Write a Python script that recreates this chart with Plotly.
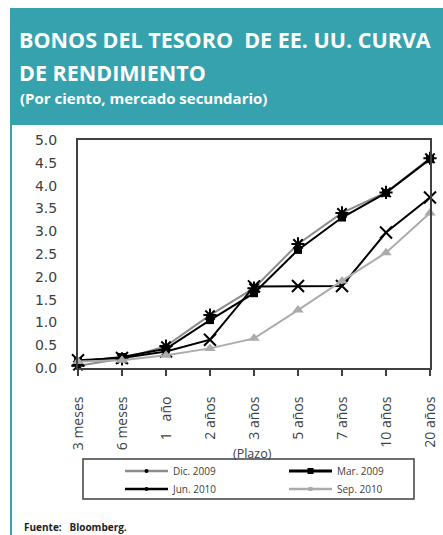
import plotly.graph_objects as go

categories = ["3 meses", "6 meses", "1   año", "2 años", "3 años", "5 años", "7 años", "10 años", "20 años"]
dic_2009 = [0.05, 0.20, 0.48, 1.16, 1.75, 2.72, 3.40, 3.85, 4.60]
mar_2009 = [0.14, 0.24, 0.42, 1.05, 1.64, 2.59, 3.30, 3.84, 4.58]
jun_2010 = [0.17, 0.22, 0.36, 0.62, 1.79, 1.80, 1.80, 2.97, 3.74]
sep_2010 = [0.14, 0.17, 0.28, 0.43, 0.65, 1.27, 1.91, 2.53, 3.40]
y_ticks = [0, 0.5, 1, 1.5, 2, 2.5, 3, 3.5, 4, 4.5, 5]

W, H = 443, 535
TEAL = "#36A2AE"
GRAY_DIC = "#8C8C8C"
GRAY_SEP = "#ABABAB"

def px(x):
    return x / W

def py(y):
    return 1 - y / H

fig = go.Figure()
fig.add_trace(go.Scatter(x=categories, y=dic_2009, name="Dic. 2009", mode="lines+markers", showlegend=False,
                         line=dict(color=GRAY_DIC, width=2),
                         marker=dict(symbol="asterisk-open", size=11, color="black", line=dict(width=2, color="black")),
                         cliponaxis=False))
fig.add_trace(go.Scatter(x=categories, y=mar_2009, name="Mar. 2009", mode="lines+markers", showlegend=False,
                         line=dict(color="black", width=2),
                         marker=dict(symbol="square", size=8, color="black"),
                         cliponaxis=False))
fig.add_trace(go.Scatter(x=categories, y=jun_2010, name="Jun. 2010", mode="lines+markers", showlegend=False,
                         line=dict(color="black", width=2),
                         marker=dict(symbol="x-thin-open", size=12, color="black", line=dict(width=2, color="black")),
                         cliponaxis=False))
fig.add_trace(go.Scatter(x=categories, y=sep_2010, name="Sep. 2010", mode="lines+markers", showlegend=False,
                         line=dict(color=GRAY_SEP, width=2),
                         marker=dict(symbol="triangle-up", size=10, color=GRAY_SEP),
                         cliponaxis=False))

# legend entries (row 1 in legend, row 2 in legend2)
legend_specs = [
    ("Dic. 2009", GRAY_DIC, 2.5, "circle", 4, "black", "legend"),
    ("Mar. 2009", "black", 3, "square", 6, "black", "legend"),
    ("Jun. 2010", "black", 2.5, "circle", 4, "black", "legend2"),
    ("Sep. 2010", GRAY_SEP, 2.5, "square", 4, GRAY_SEP, "legend2"),
]
for name, lc, lw, sym, ms, mc, lg in legend_specs:
    fig.add_trace(go.Scatter(x=[None], y=[None], name=name, mode="lines+markers", legend=lg,
                             line=dict(color=lc, width=lw),
                             marker=dict(symbol=sym, size=ms, color=mc)))

shapes = [
    dict(type="rect", xref="paper", yref="paper", x0=px(10), x1=px(443), y0=py(125), y1=py(8),
         fillcolor=TEAL, line=dict(width=0), layer="below"),
    dict(type="rect", xref="paper", yref="paper", x0=px(10), x1=px(12), y0=py(535), y1=py(125),
         fillcolor=TEAL, line=dict(width=0), layer="below"),
    dict(type="rect", xref="paper", yref="paper", x0=px(83), x1=px(414), y0=py(499), y1=py(459),
         fillcolor="rgba(0,0,0,0)", line=dict(width=1.5, color="#404040")),
]

annotations = [
    dict(text="<b>BONOS DEL TESORO  DE EE. UU. CURVA</b>", x=px(17), y=py(23),
         xref="paper", yref="paper", xanchor="left", yanchor="top", align="left", showarrow=False,
         font=dict(family="Open Sans", size=21.5, color="white")),
    dict(text="<b>DE RENDIMIENTO</b>", x=px(17), y=py(56),
         xref="paper", yref="paper", xanchor="left", yanchor="top", align="left", showarrow=False,
         font=dict(family="Open Sans", size=21.5, color="white")),
    dict(text="<b>(Por ciento, mercado secundario)</b>", x=px(18), y=py(86),
         xref="paper", yref="paper", xanchor="left", yanchor="top", align="left", showarrow=False,
         font=dict(family="Open Sans", size=15, color="white")),
    dict(text="(Plazo)", x=px(252), y=py(453), xref="paper", yref="paper", xanchor="center", yanchor="middle",
         showarrow=False, font=dict(family="Open Sans", size=12.5, color="#404040")),
    dict(text="<b>Fuente:   Bloomberg.</b>", x=px(22), y=py(527), xref="paper", yref="paper",
         xanchor="left", yanchor="middle", showarrow=False,
         font=dict(family="Open Sans", size=10, color="#222222")),
]

legend_common = dict(orientation="h", xanchor="left", yanchor="middle",
                     borderwidth=0, bgcolor="rgba(0,0,0,0)",
                     itemwidth=43, entrywidth=106, entrywidthmode="pixels",
                     font=dict(family="Open Sans", size=10, color="#404040"))

fig.update_layout(
    width=W, height=H, autosize=False,
    margin=dict(l=0, r=0, t=0, b=0, autoexpand=False),
    paper_bgcolor="white", plot_bgcolor="white",
    showlegend=True,
    shapes=shapes,
    annotations=annotations,
    legend=dict(x=px(120), y=py(471), **legend_common),
    legend2=dict(x=px(120), y=py(489), **legend_common),
    xaxis=dict(domain=[px(78), px(430)], range=[0, 8], type="category",
               showline=True, linecolor="#404040", linewidth=2, mirror=True,
               ticks="outside", ticklen=6, tickcolor="#404040", tickwidth=2,
               tickangle=-90, showgrid=False, zeroline=False, automargin=False,
               ticklabelstandoff=15,
               tickfont=dict(family="Open Sans", size=14, color="#404040")),
    yaxis=dict(domain=[py(368), py(140)], range=[0, 5], tickvals=y_ticks, tickformat=".1f",
               showline=True, linecolor="#404040", linewidth=2, mirror=True,
               ticks="", showgrid=False, zeroline=False, automargin=False,
               ticklabelstandoff=16,
               tickfont=dict(family="DejaVu Sans", size=14, color="#404040")),
)

fig.write_html("out.html", config={"responsive": False, "displayModeBar": False},
               post_script="document.body.style.margin='0';document.body.style.overflow='hidden';")
